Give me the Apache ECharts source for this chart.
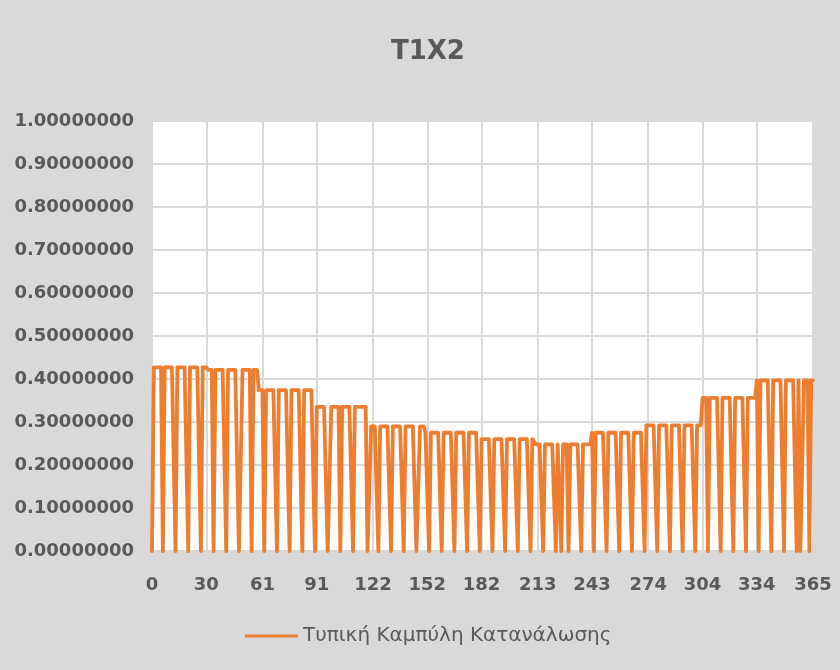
<!DOCTYPE html>
<html>
<head>
<meta charset="utf-8">
<title>T1X2</title>
<script src="https://cdn.jsdelivr.net/npm/echarts@6/dist/echarts.min.js"></script>
<style>
  html, body { margin: 0; padding: 0; background: #d9d9d9; }
  #chart { width: 840px; height: 670px; }
</style>
</head>
<body>
<div id="chart"></div>
<script>
// first day index of each month and its daily level
const monthStarts = [0, 31, 59, 90, 120, 151, 181, 212, 243, 273, 304, 334];
const monthLevels = [0.427, 0.421, 0.374, 0.335, 0.290, 0.275, 0.260, 0.248, 0.275, 0.292, 0.356, 0.397];
// days where the curve drops to zero (Sundays and holidays)
const offDays = [0, 6, 13, 20, 27, 34, 41, 48, 49, 55, 62, 69, 76, 83, 90, 97, 98,
  104, 111, 119, 120, 125, 132, 139, 146, 147, 153, 160, 167, 174, 181, 188, 195,
  202, 209, 216, 223, 226, 230, 237, 244, 251, 258, 265, 272, 279, 286, 293, 300,
  307, 314, 321, 328, 335, 342, 349, 356, 358, 359, 363];
const lastDay = 365;
const xTicks = [0, 30, 61, 91, 122, 152, 182, 213, 243, 274, 304, 334, 365];
const seriesName = 'Τυπική Καμπύλη Κατανάλωσης';

// build category list and daily values from the arrays above
const days = [];
const values = [];
for (let d = 0; d <= lastDay; d++) {
  days.push(String(d));
  let m = 0;
  while (m + 1 < monthStarts.length && d >= monthStarts[m + 1]) m++;
  values.push(offDays.indexOf(d) >= 0 ? 0 : monthLevels[m]);
}

const tickShown = (index) => xTicks.indexOf(index) >= 0;
const textColor = '#595959';
const gridColor = '#d9d9d9';
const lineColor = '#ED7D31';

const chart = echarts.init(document.getElementById('chart'));
chart.setOption({
  backgroundColor: '#d9d9d9',
  animation: false,
  title: {
    text: 'T1X2',
    left: 386,
    top: 34,
    textStyle: {
      color: textColor,
      fontFamily: 'DejaVu Sans',
      fontWeight: 'bold',
      fontSize: 26
    }
  },
  grid: {
    left: 152,
    right: 27,
    top: 121,
    bottom: 119,
    show: true,
    backgroundColor: '#ffffff',
    borderWidth: 0
  },
  legend: {
    left: 240,
    top: 621,
    icon: 'rect',
    itemWidth: 53,
    itemHeight: 3,
    textStyle: {
      color: textColor,
      fontFamily: 'DejaVu Sans',
      fontSize: 20,
      padding: [0, 0, 0, 0]
    },
    data: [seriesName]
  },
  xAxis: {
    type: 'category',
    boundaryGap: false,
    data: days,
    axisLine: { show: false },
    axisTick: { show: false },
    axisLabel: {
      interval: (index) => tickShown(index),
      margin: 25,
      color: textColor,
      fontFamily: 'DejaVu Sans',
      fontWeight: 'bold',
      fontSize: 18
    },
    splitLine: {
      show: true,
      interval: (index) => tickShown(index),
      lineStyle: { color: gridColor, width: 2 }
    }
  },
  yAxis: {
    type: 'value',
    min: 0,
    max: 1,
    interval: 0.1,
    axisLine: { show: false },
    axisTick: { show: false },
    axisLabel: {
      margin: 18,
      color: textColor,
      fontFamily: 'DejaVu Sans',
      fontWeight: 'bold',
      fontSize: 18,
      formatter: (v) => v.toFixed(8)
    },
    splitLine: {
      lineStyle: { color: gridColor, width: 2 }
    }
  },
  series: [
    {
      name: seriesName,
      type: 'line',
      data: values,
      symbol: 'none',
      sampling: null,
      lineStyle: {
        color: lineColor,
        width: 3.8,
        join: 'round',
        cap: 'round'
      },
      itemStyle: { color: lineColor }
    }
  ]
});
</script>
</body>
</html>
